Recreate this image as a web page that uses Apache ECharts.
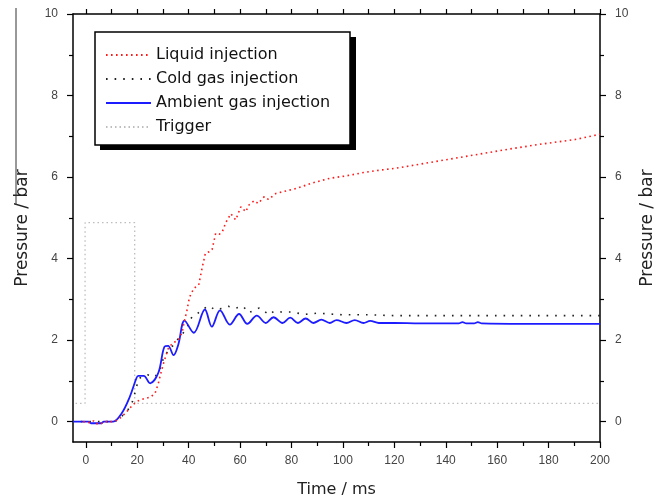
<!DOCTYPE html>
<html>
<head>
<meta charset="utf-8">
<script src="https://cdn.jsdelivr.net/npm/echarts@6/dist/echarts.min.js"></script>
<style>
  html, body { margin: 0; padding: 0; background: #fff; }
  #chart { width: 659px; height: 502px; }
</style>
</head>
<body>
<div id="chart"></div>
<script>
// Pressure traces after injection start (time in ms, pressure in bar)
const liquidT = [-1, 2, 3, 4, 6, 7, 10, 12, 14, 16, 18.4, 20, 22, 25, 26.9, 28.2, 29.5, 30.6, 32.2, 34.1, 36, 37.5, 38.4, 39.3, 40.3, 42, 43.9, 45.2, 46.5, 48, 49.1, 50.5, 52, 53.1, 54.4, 56.4, 58.3, 60.3, 62.2, 63.5, 65.5, 67, 69.4, 71, 74, 77.3, 81.8, 88.4, 94.9, 101.4, 108, 114.5, 121, 127.6, 134, 140.7, 151, 164, 177.3, 190.3, 200];
const liquidP = [0, -0.03, 0.02, -0.05, -0.05, 0, 0, 0.03, 0.12, 0.25, 0.42, 0.5, 0.55, 0.6, 0.69, 0.94, 1.27, 1.51, 1.82, 1.94, 2.0, 2.2, 2.49, 2.72, 3.05, 3.27, 3.35, 3.76, 4.13, 4.17, 4.22, 4.62, 4.6, 4.66, 4.88, 5.1, 4.95, 5.27, 5.15, 5.32, 5.42, 5.35, 5.52, 5.45, 5.6, 5.65, 5.72, 5.86, 5.97, 6.03, 6.11, 6.17, 6.22, 6.29, 6.36, 6.43, 6.54, 6.68, 6.81, 6.92, 7.05];

const coldT = [-2, 10, 12, 14.5, 16.5, 18.2, 19.5, 20.5, 22.4, 24, 25.5, 27, 28.9, 30.6, 33.1, 35.4, 37, 39.3, 40.6, 41.3, 42.4, 45.2, 47.6, 50.5, 53.1, 55.4, 58, 61.2, 63.3, 67.5, 71.4, 73, 76, 80, 85, 90, 95, 100, 110, 120, 150, 200];
const coldP = [0, 0, 0.02, 0.16, 0.3, 0.5, 0.8, 1.05, 1.12, 1.15, 1.12, 1.1, 1.31, 1.63, 1.8, 2.0, 2.1, 2.3, 2.5, 2.57, 2.6, 2.74, 2.84, 2.74, 2.78, 2.83, 2.78, 2.83, 2.67, 2.79, 2.62, 2.7, 2.69, 2.69, 2.63, 2.66, 2.64, 2.62, 2.62, 2.6, 2.6, 2.6];

const ambientT = [-5, 1, 2, 6, 7, 10.6, 13.9, 17.1, 19.7, 20.4, 22.5, 25, 28.2, 30.6, 32, 34.1, 36, 38.4, 42, 46.3, 49, 52.2, 56, 59.6, 62.8, 66.5, 70, 73, 76.5, 79.5, 82.5, 85.5, 88.5, 91.6, 94.9, 97.5, 101.4, 104.6, 108, 110.6, 114, 120, 130, 145, 146.5, 148, 151, 152.5, 154, 170, 200];
const ambientP = [0, 0, -0.04, -0.04, 0, 0, 0.2, 0.61, 1.07, 1.12, 1.12, 0.94, 1.2, 1.84, 1.86, 1.63, 1.9, 2.48, 2.18, 2.75, 2.33, 2.73, 2.38, 2.64, 2.4, 2.6, 2.42, 2.56, 2.42, 2.55, 2.42, 2.53, 2.42, 2.5, 2.42, 2.49, 2.42, 2.49, 2.42, 2.47, 2.42, 2.42, 2.41, 2.41, 2.44, 2.41, 2.41, 2.44, 2.41, 2.4, 2.4];

const triggerT = [-4, -0.3, -0.3, 19, 19, 200];
const triggerP = [0.45, 0.45, 4.88, 4.88, 0.45, 0.45];

// Axis ticks and labels
const xMajor = [0, 20, 40, 60, 80, 100, 120, 140, 160, 180, 200];
const xMinor = [10, 30, 50, 70, 90, 110, 130, 150, 170, 190];
const xTop = [0, 10, 20, 30, 40, 50, 60, 70, 80, 90, 100, 110, 120, 130, 140, 150, 160, 170, 180, 190, 200];
const yMajor = [0, 2, 4, 6, 8, 10];
const yMinor = [1, 3, 5, 7, 9];

const zip = (t, p) => t.map((v, i) => [v, p[i]]);

const X_MIN = -5, X_MAX = 200, Y_MIN = -0.5, Y_MAX = 10;
const tickFont = { fontFamily: 'Liberation Sans, Arial, sans-serif', fontSize: 12, color: '#444' };
const nameFont = { fontFamily: 'DejaVu Sans, sans-serif', fontSize: 16, color: '#222' };
const yNameFont = { fontFamily: 'DejaVu Sans, sans-serif', fontSize: 17, color: '#222' };
const axisLine = { show: true, onZero: false, lineStyle: { color: '#000', width: 1.5 } };
const tickLine = { color: '#000', width: 1.2 };

function xAx(extra) {
  return Object.assign({
    type: 'value', min: X_MIN, max: X_MAX, gridIndex: 0,
    splitLine: { show: false }, axisLine: { show: false, onZero: false },
    axisLabel: { show: false }, axisTick: { show: false }
  }, extra);
}
function yAx(extra) {
  return Object.assign({
    type: 'value', min: Y_MIN, max: Y_MAX, gridIndex: 0,
    splitLine: { show: false }, axisLine: { show: false, onZero: false },
    axisLabel: { show: false }, axisTick: { show: false }
  }, extra);
}

const chart = echarts.init(document.getElementById('chart'), null, { renderer: 'canvas' });

chart.setOption({
  animation: false,
  backgroundColor: '#fff',
  grid: { left: 73, right: 59, top: 14, bottom: 60, containLabel: false, outerBoundsMode: 'none' },
  xAxis: [
    xAx({
      position: 'bottom',
      axisLine: axisLine,
      axisTick: { show: true, length: 6, customValues: xMajor, lineStyle: tickLine },
      axisLabel: Object.assign({ show: true, margin: 13, customValues: xMajor }, tickFont),
      name: 'Time / ms', nameLocation: 'middle', nameGap: 40, nameTextStyle: nameFont
    }),
    xAx({
      position: 'bottom',
      axisTick: { show: true, length: 4, customValues: xMinor, lineStyle: tickLine }
    }),
    xAx({
      position: 'top',
      axisLine: axisLine,
      axisTick: { show: true, length: 5, customValues: xTop, lineStyle: tickLine }
    })
  ],
  yAxis: [
    yAx({
      position: 'left',
      axisLine: axisLine,
      axisTick: { show: true, length: 6, customValues: yMajor, lineStyle: tickLine },
      axisLabel: Object.assign({ show: true, margin: 15, customValues: yMajor }, tickFont),
      name: 'Pressure / bar', nameLocation: 'middle', nameRotate: 90, nameGap: 42, nameTextStyle: yNameFont
    }),
    yAx({
      position: 'left',
      axisTick: { show: true, length: 4, customValues: yMinor, lineStyle: tickLine }
    }),
    yAx({
      position: 'right',
      axisLine: axisLine,
      axisTick: { show: true, length: 6, customValues: yMajor, lineStyle: tickLine },
      axisLabel: Object.assign({ show: true, margin: 15, customValues: yMajor }, tickFont),
      name: 'Pressure / bar', nameLocation: 'middle', nameRotate: 90, nameGap: 30, nameTextStyle: yNameFont
    }),
    yAx({
      position: 'right',
      axisTick: { show: true, length: 4, customValues: yMinor, lineStyle: tickLine }
    })
  ],
  legend: {
    orient: 'vertical',
    left: 95, top: 32,
    padding: [15, 10, 11, 10],
    itemWidth: 45, itemHeight: 14, itemGap: 8,
    z: 6,
    itemStyle: { opacity: 0 },
    textStyle: { fontFamily: 'DejaVu Sans, sans-serif', fontSize: 16, color: '#111' },
    data: ['Liquid injection', 'Cold gas injection', 'Ambient gas injection', 'Trigger']
  },
  graphic: [
    { type: 'line', z: 1, shape: { x1: 16, y1: 8, x2: 16, y2: 205 }, style: { stroke: '#333', lineWidth: 1 } },
    { type: 'rect', z: 3, shape: { x: 100, y: 37, width: 256, height: 113 }, style: { fill: '#000' } },
    { type: 'rect', z: 4, shape: { x: 95, y: 32, width: 255, height: 113 }, style: { fill: '#fff', stroke: '#000', lineWidth: 1.5 } }
  ],
  series: [
    {
      name: 'Trigger', type: 'line', xAxisIndex: 0, yAxisIndex: 0,
      symbol: 'none', data: zip(triggerT, triggerP),
      itemStyle: { color: '#bdbdbd' },
      lineStyle: { color: '#bdbdbd', width: 1.3, type: [1.5, 3] }
    },
    {
      name: 'Cold gas injection', type: 'line', xAxisIndex: 0, yAxisIndex: 0,
      symbol: 'none', data: zip(coldT, coldP),
      itemStyle: { color: '#222' },
      lineStyle: { color: '#222', width: 1.6, type: [1.6, 7] }
    },
    {
      name: 'Ambient gas injection', type: 'line', xAxisIndex: 0, yAxisIndex: 0,
      symbol: 'none', smooth: 0.35, data: zip(ambientT, ambientP),
      itemStyle: { color: '#1c1cff' },
      lineStyle: { color: '#1c1cff', width: 1.8 }
    },
    {
      name: 'Liquid injection', type: 'line', xAxisIndex: 0, yAxisIndex: 0,
      symbol: 'none', data: zip(liquidT, liquidP),
      itemStyle: { color: '#ff1a1a' },
      lineStyle: { color: '#ff1a1a', width: 1.6, type: [1.6, 3.4] }
    }
  ]
});
</script>
</body>
</html>
